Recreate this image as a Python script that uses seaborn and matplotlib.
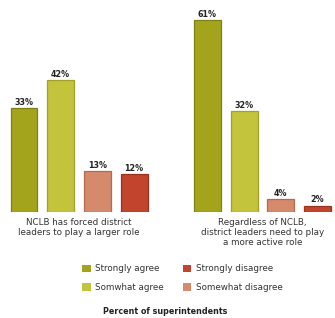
import matplotlib
matplotlib.use("Agg")
import matplotlib.pyplot as plt
import seaborn as sns
import pandas as pd
from matplotlib.patches import Patch

statements = ["NCLB has forced district\nleaders to play a larger role",
              "Regardless of NCLB,\ndistrict leaders need to play\na more active role"]
responses = ["Strongly agree", "Somwhat agree", "Somewhat disagree", "Strongly disagree"]
values_s1 = [33, 42, 13, 12]
values_s2 = [61, 32, 4, 2]
colors = ["#A3A41C", "#C3C43B", "#D68A6C", "#C2442C"]
edge_colors = ["#7E7F14", "#A0A12A", "#B06A50", "#9A3220"]
legend_order = ["Strongly agree", "Somwhat agree", "Strongly disagree", "Somewhat disagree"]
footer = "Percent of superintendents"

df = pd.DataFrame({
    "statement": [statements[0]] * 4 + [statements[1]] * 4,
    "response": responses * 2,
    "value": values_s1 + values_s2,
})

sns.set_style("white")
plt.rcParams["font.family"] = ["DejaVu Sans"]

fig = plt.figure(figsize=(3.35, 3.18), dpi=100)
ax = fig.add_axes([0, 106 / 318, 1, 212 / 318])
sns.barplot(data=df, x="statement", y="value", hue="response", hue_order=responses,
            order=statements, palette=dict(zip(responses, colors)), gap=0.27,
            width=0.8, saturation=1, ax=ax, legend=False, errorbar=None)

for cont, ec in zip(ax.containers, edge_colors):
    for p in cont:
        p.set_edgecolor(ec)
        p.set_linewidth(0.9)
    ax.bar_label(cont, labels=[f"{int(v)}%" for v in cont.datavalues],
                 fontsize=5.8, fontweight="bold", color="#222222", padding=1)

ax.set_xlim(-0.431, 1.395)
ax.set_ylim(0, 67.5)
ax.set_xlabel("")
ax.set_ylabel("")
ax.set_yticks([])
ax.tick_params(axis="x", length=0, pad=4, labelsize=6.3, labelcolor="#333333")
for s in ax.spines.values():
    s.set_visible(False)

handles = [Patch(facecolor=colors[responses.index(r)], edgecolor="none") for r in legend_order]
fig.legend(handles, legend_order, ncol=2, loc="upper left",
           bbox_to_anchor=(78 / 335, 1 - 260 / 318), frameon=False,
           fontsize=6.3, labelcolor="#333333", handlelength=0.95, handleheight=0.95,
           handletextpad=0.5, columnspacing=2.2, labelspacing=1.1, borderpad=0)

fig.text(165 / 335, 1 - 311 / 318, footer, ha="center", va="center",
         fontsize=5.8, fontweight="bold", color="#222222")

fig.savefig("out.png", dpi=100)
